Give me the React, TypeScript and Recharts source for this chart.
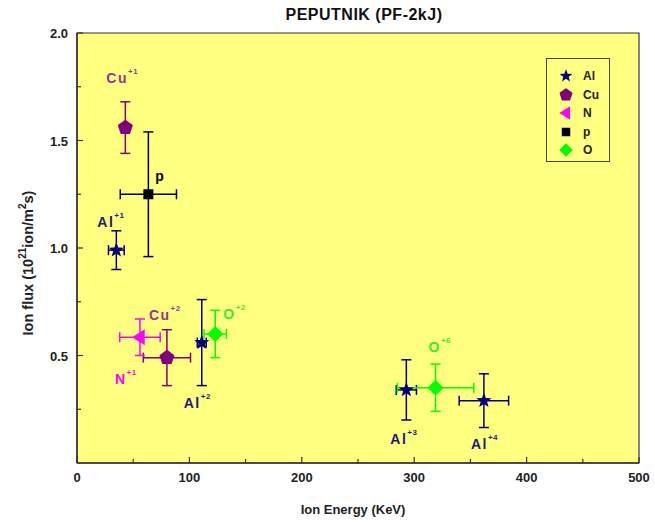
import { ScatterChart, Scatter, XAxis, YAxis, ErrorBar, ReferenceArea, Label } from 'recharts'

// values: energy (keV), flux (10^21 ion/m^2 s) and their errors
const AL_ENERGY = [35, 111, 293, 362]
const AL_FLUX = [0.99, 0.56, 0.34, 0.29]
const AL_ENERGY_ERR = [7, 4, 9, 22]
const AL_FLUX_ERR = [0.09, 0.2, 0.14, 0.125]
const AL_CHARGE = ['+1', '+2', '+3', '+4']

const CU_ENERGY = [43, 80]
const CU_FLUX = [1.56, 0.49]
const CU_ENERGY_ERR = [null, 21]
const CU_FLUX_ERR = [0.12, 0.13]
const CU_CHARGE = ['+1', '+2']

const N_ENERGY = [56]
const N_FLUX = [0.585]
const N_ENERGY_ERR = [18]
const N_FLUX_ERR = [0.085]
const N_CHARGE = ['+1']

const P_ENERGY = [63.5]
const P_FLUX = [1.25]
const P_ENERGY_ERR = [25]
const P_FLUX_ERR = [0.29]
const P_CHARGE = ['']

const O_ENERGY = [123, 319]
const O_FLUX = [0.6, 0.35]
const O_ENERGY_ERR = [10, 34]
const O_FLUX_ERR = [0.11, 0.11]
const O_CHARGE = ['+2', '+6']

const X_TICKS = [0, 50, 100, 150, 200, 250, 300, 350, 400, 450, 500]
const Y_TICKS = [0.25, 0.5, 0.75, 1, 1.25, 1.5, 1.75, 2]

// where each ion label sits relative to its marker (text start, baseline)
const LABEL_OFFSET: Record<string, [number, number]> = {
  'Al+1': [-19, -23],
  'Al+2': [-18, 65],
  'Al+3': [-16, 54],
  'Al+4': [-13, 48],
  'Cu+1': [-19, -45],
  'Cu+2': [-18, -38],
  'N+1': [-25, 47],
  p: [7, -13],
  'O+2': [8, -15],
  'O+6': [-7, -36],
}

const FONT = '"Liberation Sans", Arial, sans-serif'
const BG = '#FFFF80'

type Row = { energy: number; flux: number; eErr: number | null; fErr: number; name: string; charge: string }

function build(name: string, e: number[], f: number[], ee: (number | null)[], fe: number[], ch: string[]): Row[] {
  return e.map((x, i) => ({ energy: x, flux: f[i], eErr: ee[i], fErr: fe[i], name, charge: ch[i] }))
}

const SERIES = [
  { name: 'Al', color: '#000080', text: '#1a1a80', data: build('Al', AL_ENERGY, AL_FLUX, AL_ENERGY_ERR, AL_FLUX_ERR, AL_CHARGE) },
  { name: 'Cu', color: '#800080', text: '#993399', data: build('Cu', CU_ENERGY, CU_FLUX, CU_ENERGY_ERR, CU_FLUX_ERR, CU_CHARGE) },
  { name: 'N', color: '#FF00FF', text: '#FF00FF', data: build('N', N_ENERGY, N_FLUX, N_ENERGY_ERR, N_FLUX_ERR, N_CHARGE) },
  { name: 'p', color: '#000000', text: '#000000', data: build('p', P_ENERGY, P_FLUX, P_ENERGY_ERR, P_FLUX_ERR, P_CHARGE) },
  { name: 'O', color: '#00FF00', text: '#33EE33', data: build('O', O_ENERGY, O_FLUX, O_ENERGY_ERR, O_FLUX_ERR, O_CHARGE) },
]

function symbol(name: string, cx: number, cy: number, color: string, s = 1) {
  if (name === 'Al') {
    const pts = Array.from({ length: 10 }, (_, i) => {
      const r = (i % 2 === 0 ? 8 : 3.3) * s
      const a = -Math.PI / 2 + (i * Math.PI) / 5
      return `${cx + r * Math.cos(a)},${cy + r * Math.sin(a)}`
    }).join(' ')
    return <polygon points={pts} fill={color} />
  }
  if (name === 'Cu') {
    const pts = Array.from({ length: 5 }, (_, i) => {
      const a = -Math.PI / 2 + (i * 2 * Math.PI) / 5
      return `${cx + 7 * s * Math.cos(a)},${cy + 7 * s * Math.sin(a)}`
    }).join(' ')
    return <polygon points={pts} fill={color} strokeLinejoin="round" stroke={color} strokeWidth={1.5} />
  }
  if (name === 'N') {
    const r = 8 * s
    return <polygon points={`${cx - r},${cy} ${cx + r * 0.6},${cy - r} ${cx + r * 0.6},${cy + r}`} fill={color} />
  }
  if (name === 'p') {
    const h = 5 * s
    return <rect x={cx - h} y={cy - h} width={2 * h} height={2 * h} fill={color} />
  }
  const r = 8 * s
  return <polygon points={`${cx},${cy - r} ${cx + r},${cy} ${cx},${cy + r} ${cx - r},${cy}`} fill={color} />
}

function makeShape(color: string, textColor: string) {
  return (props: any) => {
    const { cx, cy, payload } = props
    const key = payload.name + payload.charge
    const [dx, dy] = LABEL_OFFSET[key] ?? [8, -8]
    return (
      <g>
        {symbol(payload.name, cx, cy, color)}
        <text
          x={cx + dx}
          y={cy + dy}
          fill={textColor}
          fontFamily={FONT}
          fontWeight="bold"
          fontSize={14}
          letterSpacing={1.5}
        >
          {payload.name}
          {payload.charge && (
            <tspan dx={0} dy={-9} fontSize={8} letterSpacing={0.5}>
              {payload.charge}
            </tspan>
          )}
        </text>
      </g>
    )
  }
}

function XTick(props: any) {
  const { x, y, payload } = props
  const major = payload.value % 100 === 0
  return (
    <g>
      <line x1={x} y1={y} x2={x} y2={y - (major ? 6 : 4)} stroke="#333" strokeWidth={1.2} />
      {major && (
        <text x={x} y={y + 19} textAnchor="middle" fontFamily={FONT} fontWeight="bold" fontSize={13} fill="#222">
          {payload.value}
        </text>
      )}
    </g>
  )
}

function YTick(props: any) {
  const { x, y, payload } = props
  const major = payload.value % 0.5 === 0
  return (
    <g>
      <line x1={x} y1={y} x2={x + (major ? 6 : 4)} y2={y} stroke="#333" strokeWidth={1.2} />
      {major && (
        <text x={x - 9} y={y + 5} textAnchor="end" fontFamily={FONT} fontWeight="bold" fontSize={13} fill="#222">
          {payload.value.toFixed(1)}
        </text>
      )}
    </g>
  )
}

function LegendBox() {
  return (
    <div
      style={{
        position: 'absolute',
        left: 546,
        top: 58,
        width: 64,
        height: 104,
        border: '1px solid #444',
        background: BG,
        boxSizing: 'border-box',
        paddingTop: 8,
      }}
    >
      {SERIES.map((s) => (
        <div key={s.name} style={{ display: 'flex', alignItems: 'center', height: 18.5 }}>
          <svg width={36} height={18}>
            {symbol(s.name, 19, 9, s.color, 0.85)}
          </svg>
          <span style={{ fontFamily: FONT, fontSize: 12, fontWeight: 'bold', color: '#222' }}>{s.name}</span>
        </div>
      ))}
    </div>
  )
}

export default function App() {
  return (
    <div style={{ position: 'absolute', left: 0, top: 0, width: 655, height: 525, background: '#fff' }}>
      <div
        style={{
          position: 'absolute',
          left: 0,
          width: 728,
          top: 6,
          textAlign: 'center',
          fontFamily: FONT,
          fontWeight: 'bold',
          fontSize: 16,
          letterSpacing: 0.5,
          color: '#111',
        }}
      >
        PEPUTNIK (PF-2kJ)
      </div>
      <ScatterChart width={655} height={525} margin={{ top: 33, right: 16, bottom: 0, left: 0 }}>
        <ReferenceArea x1={0} x2={500} y1={0} y2={2} fill={BG} fillOpacity={1} stroke="#333" strokeWidth={1.2} />
        <XAxis
          type="number"
          dataKey="energy"
          domain={[0, 500]}
          ticks={X_TICKS}
          tick={<XTick />}
          tickSize={0}
          tickMargin={0}
          tickLine={false}
          height={62}
          stroke="#333"
          strokeWidth={1.5}
          allowDataOverflow
        >
          <Label
            content={() => (
              <text x={353} y={514} textAnchor="middle" fontFamily={FONT} fontWeight="bold" fontSize={13} fill="#222">
                Ion Energy (KeV)
              </text>
            )}
          />
        </XAxis>
        <YAxis
          type="number"
          dataKey="flux"
          domain={[0, 2]}
          ticks={Y_TICKS}
          tick={<YTick />}
          tickSize={0}
          tickMargin={0}
          tickLine={false}
          width={77}
          stroke="#333"
          strokeWidth={1.5}
          allowDataOverflow
        >
          <Label
            content={() => (
              <text
                transform="rotate(-90 33 263)"
                x={33}
                y={263}
                textAnchor="middle"
                fontFamily={FONT}
                fontWeight="bold"
                fontSize={14.5}
                fill="#222"
              >
                Ion flux (10
                <tspan dy={-7} fontSize={10}>21</tspan>
                <tspan dy={7}>ion/m</tspan>
                <tspan dy={-7} fontSize={10}>2</tspan>
                <tspan dy={7}>s)</tspan>
              </text>
            )}
          />
        </YAxis>
        {SERIES.map((s) => (
          <Scatter
            key={s.name}
            name={s.name}
            data={s.data}
            fill={s.color}
            shape={makeShape(s.color, s.text)}
            isAnimationActive={false}
          >
            <ErrorBar dataKey="fErr" direction="y" stroke={s.color} strokeWidth={1.5} width={5} />
            <ErrorBar dataKey="eErr" direction="x" stroke={s.color} strokeWidth={1.5} width={5} />
          </Scatter>
        ))}
      </ScatterChart>
      <LegendBox />
    </div>
  )
}
